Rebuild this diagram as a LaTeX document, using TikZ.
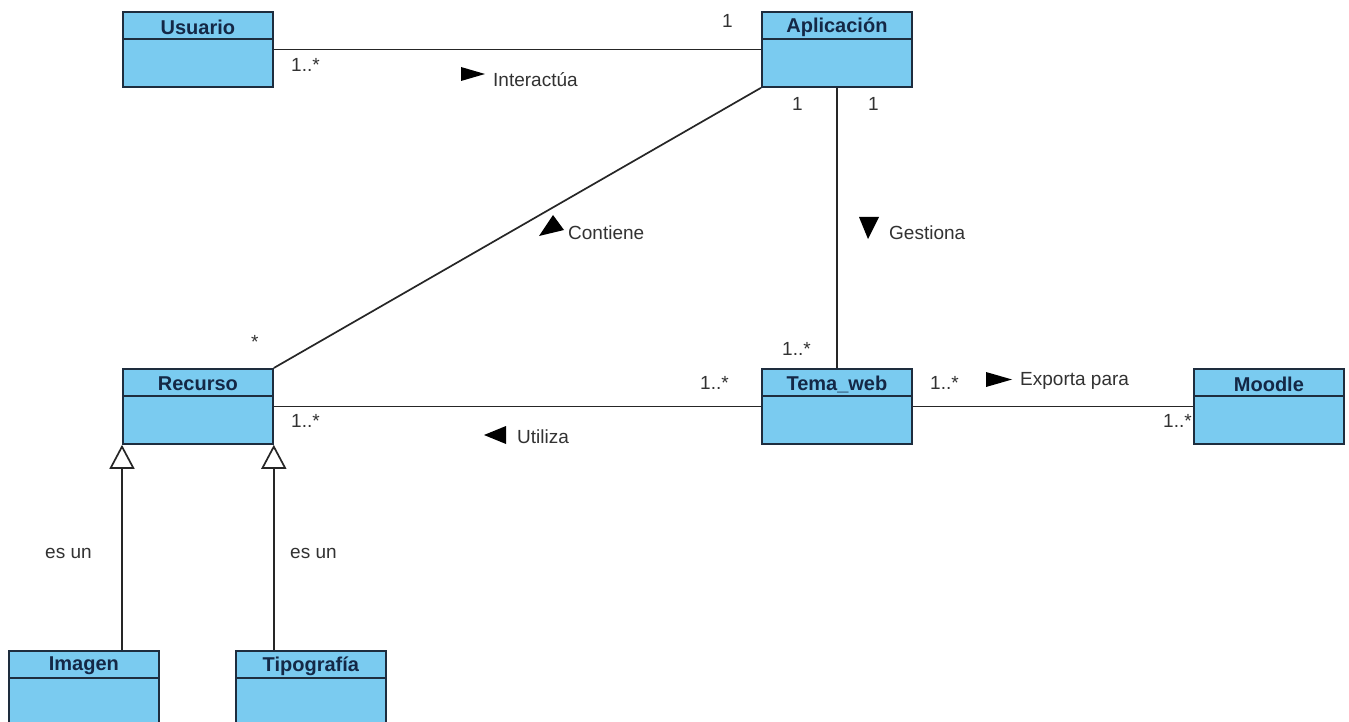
\documentclass[tikz,border=0pt]{standalone}
\usepackage{fontspec}
\setmainfont{Liberation Sans}
\usetikzlibrary{arrows.meta}
\definecolor{clsfill}{RGB}{122,203,240}
\definecolor{clsline}{RGB}{30,45,62}
\definecolor{ttlcol}{RGB}{20,40,70}
\definecolor{lblcol}{RGB}{50,50,50}
\newcommand\umlclass[4]{%
  \node[cls,anchor=north west] (#1) at (#2,#3) {};
  \draw[clsline,line width=1.8pt] ([yshift=-28pt]#1.north west) -- ([yshift=-28pt]#1.north east);
  \node[ttl] at ([yshift=-16pt]#1.north) {#4};}
\begin{document}
\begin{tikzpicture}[x=1pt,y=-1pt,
  cls/.style={draw=clsline,fill=clsfill,line width=1.8pt,minimum width=150pt,minimum height=75pt,inner sep=0pt,rectangle},
  ttl/.style={font=\fontsize{20}{22}\selectfont\bfseries,text=ttlcol,inner sep=0pt},
  lbl/.style={font=\fontsize{19}{21}\selectfont,text=lblcol,inner sep=0pt,anchor=west},
  conn/.style={line width=1.7pt,black!85},
  gen/.style={conn,-{Triangle[open,length=24pt,width=25pt,fill=white,line width=1.7pt]}},
  dirtri/.style={fill=black}]
\clip (0,0) rectangle (1349,722);
\fill[white] (0,0) rectangle (1349,722);

\umlclass{usr}{122}{11}{Usuario}
\umlclass{app}{761}{11}{Aplicación}
\umlclass{rec}{122}{368}{Recurso}
\umlclass{tema}{761}{368}{Tema\_web}
\umlclass{moodle}{1193}{368}{Moodle}
\umlclass{img}{8}{650}{Imagen}
\umlclass{tipo}{235}{650}{Tipografía}

% associations
\draw[conn] (usr.east) -- (usr.east -| app.west);
\draw[conn] (app.south) -- (tema.north);
\draw[conn] (rec.north east) -- (app.south west);
\draw[conn] (rec.east) -- (tema.west);
\draw[conn] (tema.east) -- (moodle.west);

% generalizations
\draw[gen] (rec.south west |- img.north) -- (rec.south west);
\draw[gen] (rec.south east |- tipo.north) -- (rec.south east);

% direction triangles
\fill[dirtri] (461,67) -- (461,81) -- (485,74) -- cycle;
\fill[dirtri] (539,236) -- (564,230) -- (553,215) -- cycle;
\fill[dirtri] (859,217) -- (879,217) -- (868,239) -- cycle;
\fill[dirtri] (986,372) -- (986,387) -- (1012,379.5) -- cycle;
\fill[dirtri] (484,435) -- (506,426) -- (506,444) -- cycle;

% association names
\node[lbl] (l1) at (493,80) {Interactúa};
\node[lbl] (l2) at (568,233) {Contiene};
\node[lbl] (l3) at (889,233) {Gestiona};
\node[lbl] (l4) at (1020,381) {Exporta para};
\node[lbl] (l5) at (517,437) {Utiliza};
\node[lbl] (l6) at (45,553) {es un};
\node[lbl] (l7) at (290,553) {es un};

% multiplicities
\node[lbl] (m1) at (291,65) {1..*};
\node[lbl] (m2) at (722,21) {1};
\node[lbl] (m3) at (792,104) {1};
\node[lbl] (m4) at (868,104) {1};
\node[lbl] (m5) at (251,342) {*};
\node[lbl] (m6) at (782,349) {1..*};
\node[lbl] (m7) at (700,383) {1..*};
\node[lbl] (m8) at (291,421) {1..*};
\node[lbl] (m9) at (930,383) {1..*};
\node[lbl] (m10) at (1163,421) {1..*};
\end{tikzpicture}
\end{document}
